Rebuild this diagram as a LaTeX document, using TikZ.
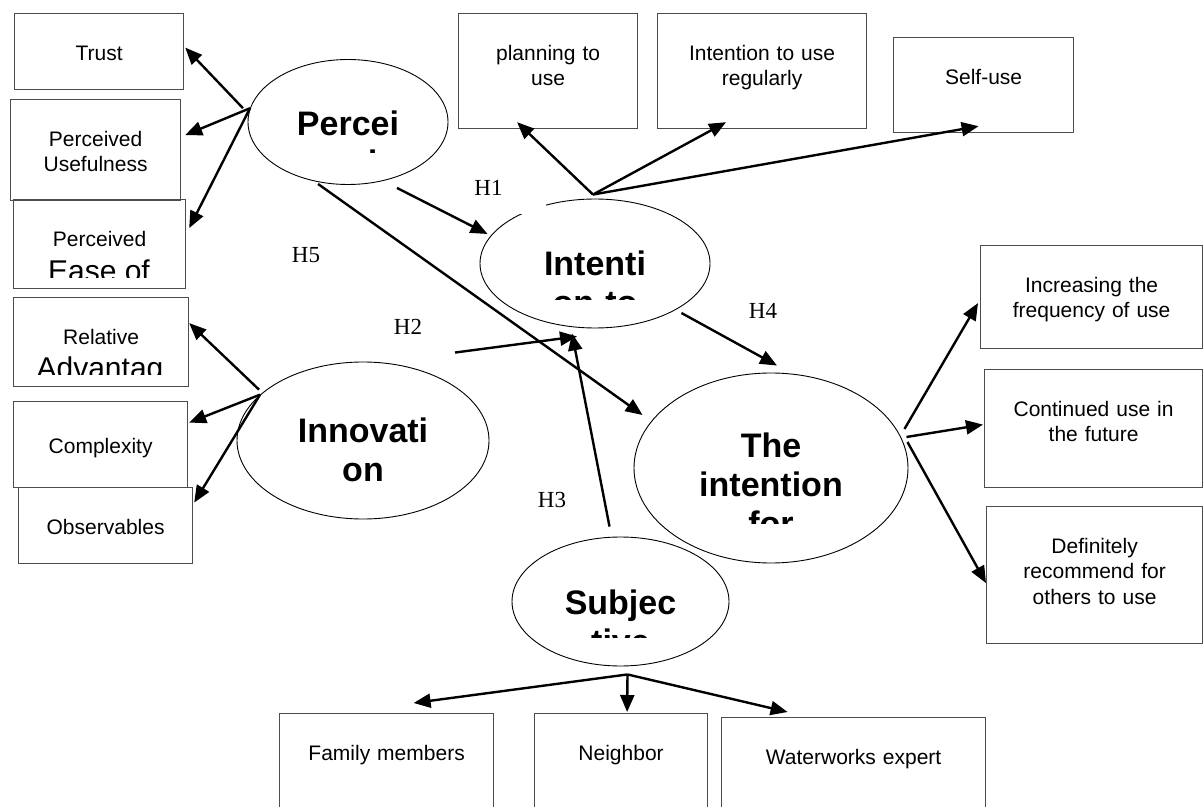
\documentclass[tikz,border=0pt]{standalone}
\usepackage{fontspec}
\setmainfont{Liberation Sans}
\newfontfamily\hypfont{Liberation Serif}
\usetikzlibrary{arrows.meta,calc,shapes.geometric}

\begin{document}
\begin{tikzpicture}[x=0.5pt, y=-0.5pt,
    box/.style={rectangle, draw=black!70, line width=0.6pt, anchor=north west, inner sep=0pt, align=center, font=\fontsize{10.5}{12.75}\selectfont, text height=23.3pt},
    oval/.style={ellipse, draw, line width=0.45pt, inner sep=0pt},
    ovaltxt/.style={anchor=base, text width=150pt, align=center, inner sep=0pt, font=\fontsize{17}{19.5}\selectfont\bfseries},
    bigtxt/.style={anchor=base, inner sep=0pt, font=\fontsize{15}{18}\selectfont},
    hyp/.style={inner sep=0pt, font=\hypfont\fontsize{11.5}{13}\selectfont},
    line/.style={draw, line width=1.2pt, -{Triangle[length=8.5pt,width=7pt]}}]

    \path[use as bounding box, fill=white] (0,0) rectangle (1204,807);

    % indicator boxes
    \node [box, text width=84.5pt, text depth=14.7pt] (trust) at (14,13) {Trust};
    \node [box, text width=85pt, text depth=27.2pt] (usef) at (10,99) {Perceived\\Usefulness};
    \node [box, text width=86pt, text depth=21.2pt] (ease) at (13,199) {Perceived};
    \node [box, text width=87.5pt, text depth=21.2pt] (relad) at (13,297) {Relative};
    \node [box, text width=87pt, text height=26pt, text depth=17pt] (cplx) at (13,401) {Complexity};
    \node [box, text width=87pt, text depth=14.7pt] (obs) at (18,487) {Observables};
    \node [box, text width=89.5pt, text depth=34.2pt] (plan) at (458,13) {planning to\\use};
    \node [box, text width=104.5pt, text depth=34.2pt] (regu) at (657,13) {Intention to use\\regularly};
    \node [box, text width=90pt, text depth=24.2pt] (self) at (893,37) {Self-use};
    \node [box, text width=111pt, text depth=28.2pt] (freq) at (980,245) {Increasing the\\frequency of use};
    \node [box, text width=109pt, text depth=35.7pt] (cont) at (984,369) {Continued use in\\the future};
    \node [box, text width=108pt, text depth=45.2pt] (recm) at (986,506) {Definitely\\recommend for\\others to use};
    \node [box, text width=107pt, text depth=35.2pt] (fam) at (279,713) {Family members};
    \node [box, text width=86.5pt, text depth=35.2pt] (neigh) at (534,713) {Neighbor};
    \node [box, text width=132pt, text depth=33.2pt] (water) at (721,717) {Waterworks expert};

    % cut off second lines
    \begin{scope}
        \clip (13,199) rectangle (185,278);
        \node [bigtxt] (easetxt) at (99,281.5) {Ease of};
    \end{scope}
    \begin{scope}
        \clip (13,297) rectangle (188,375);
        \node [bigtxt] (reladtxt) at (100,378.5) {Advantag};
    \end{scope}

    % constructs
    \node [oval, minimum width=100pt, minimum height=62.5pt] (perc) at (348,122) {};
    \node [oval, minimum width=115pt, minimum height=64.5pt] (intu) at (595,263.5) {};
    \node [oval, minimum width=126pt, minimum height=78.5pt] (innov) at (363,440.5) {};
    \node [oval, minimum width=137pt, minimum height=95pt] (intf) at (771,468) {};
    \node [oval, minimum width=108.5pt, minimum height=64.5pt] (subj) at (620.5,601.5) {};

    \begin{scope}
        \clip (248,59) rectangle (448,153);
        \node [ovaltxt] (perctxt) at (348,136) {Percei\\ved};
    \end{scope}
    \begin{scope}
        \clip (480,199) rectangle (710,300);
        \node [ovaltxt] (intutxt) at (595,276) {Intenti\\on to};
    \end{scope}
    \node [ovaltxt] (innovtxt) at (363,443) {Innovati\\on};
    \begin{scope}
        \clip (634,373) rectangle (908,523);
        \node [ovaltxt] (intftxt) at (771,458) {The\\intention\\for};
    \end{scope}
    \begin{scope}
        \clip (512,537) rectangle (729,637);
        \node [ovaltxt] (subjtxt) at (620.5,614) {Subjec\\tive};
    \end{scope}

    % hypotheses
    \node [hyp, fill=white, text width=36pt, text height=12pt, text depth=9pt, anchor=base west] (h1) at (474,196) {H1};
    \node [hyp] (h2) at (408,327) {H2};
    \node [hyp] (h3) at (552,500) {H3};
    \node [hyp] (h4) at (763,311) {H4};
    \node [hyp] (h5) at (306,255) {H5};

    \coordinate (intutop) at ($(intu.north)+(-2,-4)$);
    \coordinate (subjbot) at ($(subj.south)+(7,8)$);

    \draw [line] ($(perc.172)+(-7,0)$) -- ($(trust.east)+(1,-4)$);
    \draw [line] (perc.172) -- ($(usef.east)+(4,-15)$);
    \draw [line] (perc.172) -- ($(ease.east)+(3,-16)$);

    \draw [line] ($(innov.156)+(-1,-5)$) -- ($(relad.east)+(0,-19)$);
    \draw [line] (innov.156) -- ($(cplx.east)+(1,-22)$);
    \draw [line] (innov.156) -- ($(obs.east)+(1,-23)$);

    \draw [line] (intutop) -- ($(plan.south)+(-31,-7)$);
    \draw [line] (intutop) -- ($(regu.south)+(-36,-7)$);
    \draw [line] (intutop) -- ($(self.south)+(-5,-7)$);

    \draw [line] ($(intf.east)+(-4,-39)$) -- ($(freq.west)+(-2,6)$);
    \draw [line] ($(intf.east)+(-2,-31)$) -- ($(cont.west)+(-1,-4)$);
    \draw [line] ($(intf.east)+(-1,-26)$) -- ($(recm.west)+(0,8)$);

    \draw [line] (subjbot) -- ($(fam.north)+(27,-10)$);
    \draw [line] (subjbot) -- ($(neigh.north)+(6,-1)$);
    \draw [line] (subjbot) -- ($(water.north)+(-66,-5)$);

    \draw [line] ($(perc.south)+(49,3)$) -- ($(intu.west)+(8,-29.5)$);
    \draw [line] ($(innov.north)+(92,-9)$) -- ($(intu.south)+(-18,8)$);
    \draw [line] ($(subj.north)+(-11,-10)$) -- ($(intu.south)+(-23,5)$);
    \draw [line] ($(intu.east)+(-29,49.5)$) -- ($(intf.north)+(6,-7)$);
    \draw [line] ($(perc.south)+(-30,-1)$) -- ($(intf.west)+(9,-53)$);
\end{tikzpicture}
\end{document}
